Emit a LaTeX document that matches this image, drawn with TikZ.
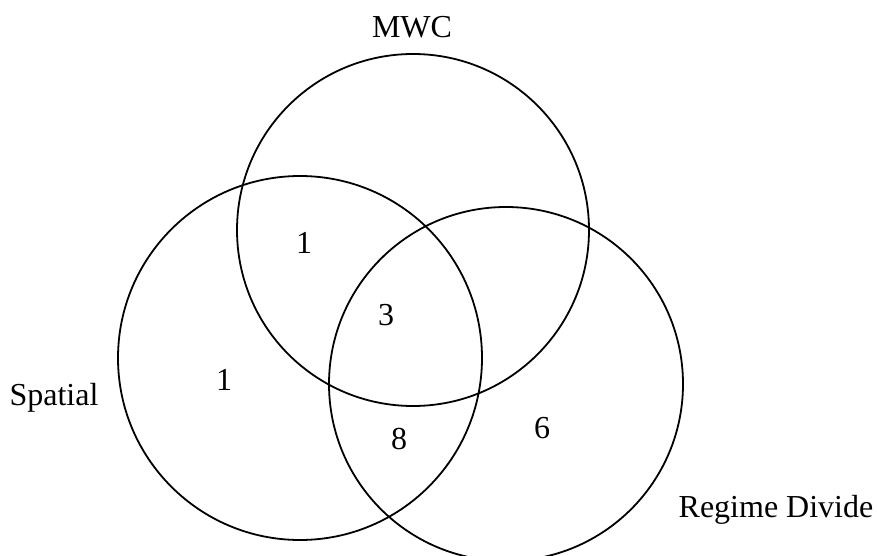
\documentclass[tikz,border=0pt]{standalone}
\usepackage{fontspec}
\setmainfont{Liberation Serif}
\tikzset{
  venn/.style={circle, draw, line width=1.8pt, inner sep=0pt, minimum size=#1},
  lbl/.style={anchor=base, inner sep=0pt, font=\fontsize{32}{38}\selectfont}
}
\begin{document}
\begin{tikzpicture}[x=1pt, y=-1pt]
  \useasboundingbox (0,0) rectangle (878,556);
  \clip (0,0) rectangle (878,556);
  % the three sets
  \node[venn=352pt] (mwc) at (413,230) {};
  \node[venn=364pt] (spatial) at (300,358) {};
  \node[venn=354pt] (regime) at (506,384) {};
  \node[lbl] (mwclbl) at (412,38) {MWC};
  \node[lbl] (spatiallbl) at (54,405) {Spatial};
  \node[lbl] (regimelbl) at (776,517) {Regime Divide};
  % counts
  \foreach \x/\y/\n [count=\i] in {304/253/1, 386/325/3, 224/390/1, 399/449/8, 542/438/6}
    \node[lbl] (n\i) at (\x,\y) {\n};
\end{tikzpicture}
\end{document}
